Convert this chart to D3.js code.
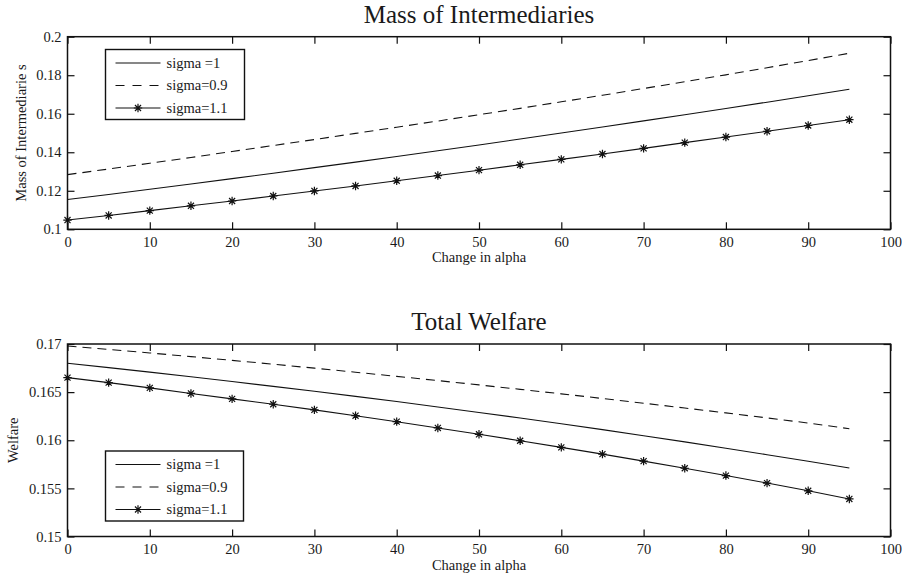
<!DOCTYPE html>
<html>
<head>
<meta charset="utf-8">
<script src="https://cdn.jsdelivr.net/npm/d3@7"></script>
<style>
  body { margin: 0; background: #fff; }
  svg text { font-family: "Liberation Serif", "Times New Roman", serif; fill: #1a1a1a; }
</style>
</head>
<body>
<svg id="chart" width="902" height="580"></svg>
<script>
// datos
var alpha = [0, 5, 10, 15, 20, 25, 30, 35, 40, 45, 50, 55, 60, 65, 70, 75, 80, 85, 90, 95];
var seriesNames = ['sigma =1', 'sigma=0.9', 'sigma=1.1'];

// Mass of Intermediaries
var massSigma1 = [0.1155, 0.1181, 0.1208, 0.1235, 0.1263, 0.1291, 0.1320, 0.1349, 0.1378, 0.1408,
                  0.1438, 0.1469, 0.1500, 0.1531, 0.1563, 0.1595, 0.1627, 0.1660, 0.1693, 0.1727];
var massSigma09 = [0.1284, 0.1313, 0.1343, 0.1373, 0.1404, 0.1435, 0.1466, 0.1498, 0.1530, 0.1562,
                   0.1595, 0.1628, 0.1662, 0.1696, 0.1731, 0.1766, 0.1802, 0.1839, 0.1876, 0.1914];
var massSigma11 = [0.1048, 0.1072, 0.1097, 0.1122, 0.1147, 0.1173, 0.1199, 0.1225, 0.1252, 0.1279,
                   0.1307, 0.1335, 0.1363, 0.1391, 0.1420, 0.1450, 0.1479, 0.1509, 0.1539, 0.1569];

// Total Welfare
var welfSigma1 = [0.16800, 0.16755, 0.16708, 0.16659, 0.16610, 0.16560, 0.16509, 0.16456, 0.16402, 0.16346,
                  0.16289, 0.16231, 0.16171, 0.16110, 0.16047, 0.15983, 0.15917, 0.15850, 0.15781, 0.15711];
var welfSigma09 = [0.16980, 0.16944, 0.16907, 0.16869, 0.16830, 0.16790, 0.16749, 0.16707, 0.16664, 0.16620,
                   0.16575, 0.16529, 0.16482, 0.16434, 0.16385, 0.16335, 0.16284, 0.16232, 0.16179, 0.16120];
var welfSigma11 = [0.16651, 0.16599, 0.16544, 0.16486, 0.16430, 0.16374, 0.16316, 0.16255, 0.16193, 0.16128,
                   0.16062, 0.15995, 0.15926, 0.15856, 0.15783, 0.15709, 0.15633, 0.15555, 0.15475, 0.15390];

// ejes
var xTicks = [0, 10, 20, 30, 40, 50, 60, 70, 80, 90, 100];
var massTicks = [0.1, 0.12, 0.14, 0.16, 0.18, 0.2];
var welfTicks = [0.15, 0.155, 0.16, 0.165, 0.17];

var svg = d3.select('#chart');
var FS = 14.5;

function drawPanel(p) {
    var x = d3.scaleLinear().domain([0, 100]).range([p.left, p.right]);
    var y = d3.scaleLinear().domain(p.yDomain).range([p.bottom, p.top]);
    var g = svg.append('g');

    // ticks hacia dentro, en los cuatro lados
    var fmt = function (d) { return String(+d.toFixed(4)); };
    var ax = g.append('g').attr('transform', 'translate(0,' + p.bottom + ')')
        .call(d3.axisBottom(x).tickValues(xTicks).tickSizeInner(-7).tickSizeOuter(0).tickPadding(7).tickFormat(fmt));
    var axTop = g.append('g').attr('transform', 'translate(0,' + p.top + ')')
        .call(d3.axisTop(x).tickValues(xTicks).tickSizeInner(-7).tickSizeOuter(0).tickFormat(''));
    var ay = g.append('g').attr('transform', 'translate(' + p.left + ',0)')
        .call(d3.axisLeft(y).tickValues(p.yTicks).tickSizeInner(-7).tickSizeOuter(0).tickPadding(6).tickFormat(fmt));
    var ayR = g.append('g').attr('transform', 'translate(' + p.right + ',0)')
        .call(d3.axisRight(y).tickValues(p.yTicks).tickSizeInner(-7).tickSizeOuter(0).tickFormat(''));
    [ax, axTop, ay, ayR].forEach(function (a) {
        a.select('.domain').remove();
        a.selectAll('line').attr('stroke', '#111').attr('stroke-width', 1.2);
        a.selectAll('text').attr('font-size', FS + 'px').attr('fill', '#1a1a1a')
            .attr('font-family', '"Liberation Serif", "Times New Roman", serif');
    });

    // marco
    g.append('rect')
        .attr('x', p.left).attr('y', p.top)
        .attr('width', p.right - p.left).attr('height', p.bottom - p.top)
        .attr('fill', 'none').attr('stroke', '#111').attr('stroke-width', 1.5);

    var line = d3.line().x(function (d, i) { return x(alpha[i]); }).y(function (d) { return y(d); });

    g.append('path').attr('d', line(p.s1)).attr('fill', 'none').attr('stroke', '#111').attr('stroke-width', 1.1);
    g.append('path').attr('d', line(p.s09)).attr('fill', 'none').attr('stroke', '#111').attr('stroke-width', 1.1)
        .attr('stroke-dasharray', '9,6');
    g.append('path').attr('d', line(p.s11)).attr('fill', 'none').attr('stroke', '#111').attr('stroke-width', 1.1);

    g.selectAll('.star').data(p.s11).enter().append('path')
        .attr('class', 'star')
        .attr('transform', function (d, i) { return 'translate(' + x(alpha[i]) + ',' + y(d) + ')'; })
        .attr('d', star(4.2))
        .attr('stroke', '#111').attr('stroke-width', 1.2).attr('fill', 'none');

    // titulo y etiquetas
    svg.append('text')
        .attr('x', (p.left + p.right) / 2).attr('y', p.top - 14)
        .attr('text-anchor', 'middle').attr('font-size', '25px')
        .text(p.title);
    svg.append('text')
        .attr('x', (p.left + p.right) / 2).attr('y', p.bottom + 33)
        .attr('text-anchor', 'middle').attr('font-size', FS + 'px')
        .text('Change in alpha');
    svg.append('text')
        .attr('transform', 'translate(' + p.ylabelX + ',' + (p.top + p.bottom) / 2 + ') rotate(-90)')
        .attr('text-anchor', 'middle').attr('dy', '0.35em').attr('font-size', FS + 'px')
        .text(p.ylabel);

    // leyenda
    var L = p.legend;
    var lg = svg.append('g');
    lg.append('rect').attr('x', L.x).attr('y', L.y).attr('width', L.w).attr('height', L.h)
        .attr('fill', '#fff').attr('stroke', '#111').attr('stroke-width', 1.4);
    seriesNames.forEach(function (name, i) {
        var ry = L.y + 13.5 + i * 22.5;
        var ln = lg.append('line').attr('x1', L.x + 10).attr('x2', L.x + 55)
            .attr('y1', ry).attr('y2', ry).attr('stroke', '#111').attr('stroke-width', 1.1);
        if (i === 1) ln.attr('stroke-dasharray', '9,8');
        if (i === 2) {
            lg.append('path').attr('transform', 'translate(' + (L.x + 32.5) + ',' + ry + ')')
                .attr('d', star(4.2)).attr('stroke', '#111').attr('stroke-width', 1.2);
        }
        lg.append('text').attr('x', L.x + 61).attr('y', ry).attr('dy', '0.33em')
            .attr('font-size', FS + 'px').text(name);
    });
}

// asterisco estilo matlab (+ y x)
function star(r) {
    var d = r * 0.72;
    return 'M' + (-r) + ',0L' + r + ',0M0,' + (-r) + 'L0,' + r +
        'M' + (-d) + ',' + (-d) + 'L' + d + ',' + d + 'M' + (-d) + ',' + d + 'L' + d + ',' + (-d);
}

drawPanel({
    title: 'Mass of Intermediaries', ylabel: 'Mass of Intermediarie s', ylabelX: 21,
    left: 67.5, right: 890.5, top: 36.7, bottom: 229.3,
    yDomain: [0.1, 0.2], yTicks: massTicks,
    s1: massSigma1, s09: massSigma09, s11: massSigma11,
    legend: { x: 105.5, y: 49.5, w: 139, h: 70 }
});

drawPanel({
    title: 'Total Welfare', ylabel: 'Welfare', ylabelX: 13,
    left: 67.5, right: 890.5, top: 344, bottom: 536.5,
    yDomain: [0.15, 0.17], yTicks: welfTicks,
    s1: welfSigma1, s09: welfSigma09, s11: welfSigma11,
    legend: { x: 105.5, y: 451, w: 138, h: 70 }
});
</script>
</body>
</html>
